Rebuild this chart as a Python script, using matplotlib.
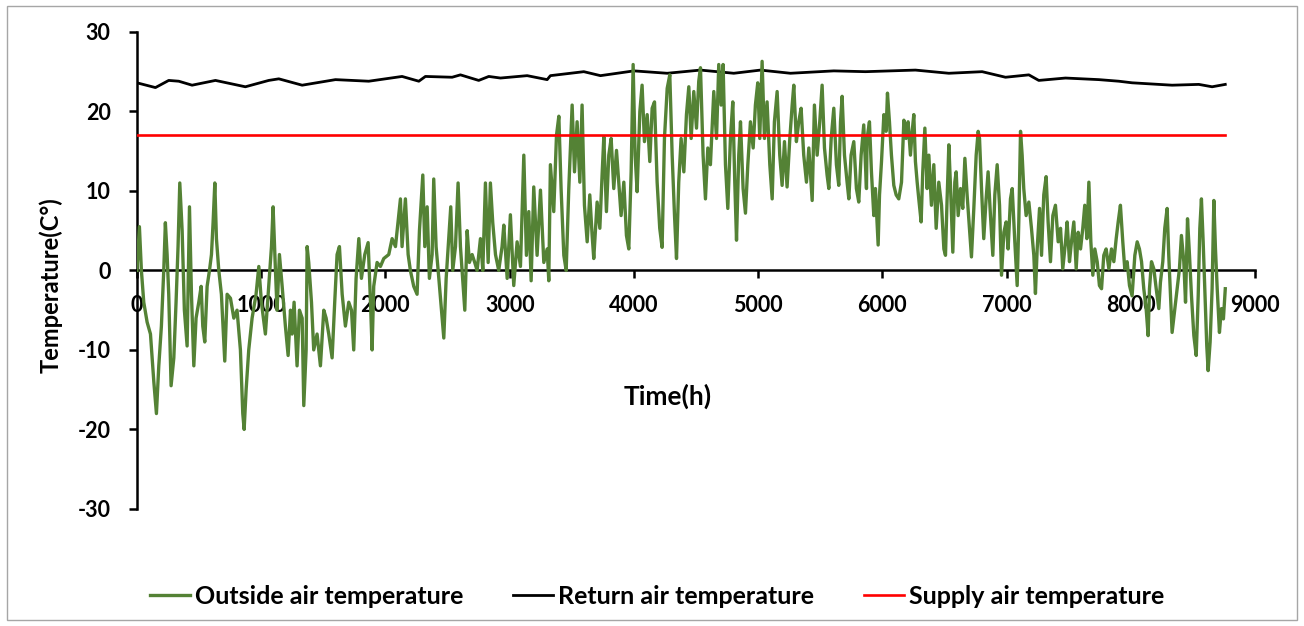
import matplotlib
matplotlib.use("Agg")
import matplotlib.pyplot as plt
from matplotlib.patches import Rectangle

plt.rcParams['font.family'] = ['Lato', 'DejaVu Sans']
plt.rcParams['font.weight'] = 'bold'
plt.rcParams['axes.unicode_minus'] = False

# outside air temperature (hour, deg C)
outside_h = [0, 20, 36, 55, 82, 109, 136, 157, 176, 197, 216, 229, 243, 256, 275, 297, 315, 331, 345, 364,
             382, 404, 423, 439, 458, 476, 498, 517, 530, 546, 565, 584, 600, 613, 627, 640, 659, 680, 707, 726,
             753, 780, 806, 833, 852, 863, 879, 900, 927, 959, 981, 1002, 1034, 1061, 1083, 1096, 1115, 1128, 1147, 1169,
             1195, 1217, 1236, 1249, 1265, 1289, 1308, 1330, 1343, 1362, 1370, 1383, 1405, 1423, 1450, 1477, 1504, 1523, 1544, 1571,
             1592, 1611, 1630, 1652, 1678, 1705, 1727, 1745, 1764, 1786, 1807, 1834, 1861, 1880, 1893, 1906, 1933, 1960, 1987, 2027,
             2054, 2081, 2121, 2134, 2161, 2183, 2201, 2228, 2255, 2274, 2301, 2317, 2336, 2354, 2376, 2389, 2408, 2430, 2451, 2470,
             2489, 2510, 2526, 2542, 2564, 2585, 2604, 2617, 2639, 2658, 2676, 2698, 2719, 2738, 2765, 2784, 2805, 2827, 2845, 2864,
             2886, 2912, 2939,
             2953, 2980, 3006, 3033, 3060, 3087, 3114, 3135, 3154, 3173, 3194, 3221, 3248, 3275, 3302, 3315, 3328, 3355, 3377, 3396,
             3414, 3436, 3455, 3476, 3503, 3522, 3543, 3565, 3583, 3602, 3624, 3645, 3664, 3677, 3704, 3726, 3744, 3758, 3779, 3798,
             3817, 3838, 3860, 3878, 3897, 3919, 3940, 3959, 3978, 3994, 4010, 4026, 4048, 4066, 4085, 4107, 4128, 4147, 4166, 4187,
             4208, 4227, 4246, 4268, 4289, 4308, 4327, 4343, 4361, 4380, 4402, 4423, 4442, 4461, 4482, 4504, 4522, 4536, 4557, 4576,
             4595, 4616, 4643, 4665, 4683, 4702, 4718, 4737, 4756, 4777, 4796, 4812, 4826, 4844, 4858, 4879, 4898, 4917, 4938, 4960,
             4978, 4997, 5013, 5032, 5051, 5072, 5094, 5113, 5131, 5153, 5174, 5193, 5212, 5233, 5255, 5274, 5287, 5308, 5327, 5346,
             5367, 5389, 5408, 5435, 5453, 5475, 5496, 5515, 5534, 5555, 5569, 5588, 5609, 5630, 5649, 5663, 5676, 5695, 5716, 5730,
             5748, 5770, 5791, 5810, 5829, 5850, 5872,
             5877, 5896, 5912, 5931, 5944, 5966, 5977, 5993, 6012, 6030, 6041, 6057, 6073, 6092, 6111, 6132, 6154, 6173, 6191, 6207,
             6226, 6240, 6253, 6266, 6280, 6293, 6312, 6325, 6342, 6360, 6374, 6395, 6414, 6433, 6454, 6476, 6495, 6508, 6521, 6535,
             6548, 6567, 6583, 6594, 6610, 6629, 6647, 6664, 6682, 6701, 6717, 6736, 6755, 6771, 6782, 6798, 6816, 6835, 6851, 6870,
             6889, 6905, 6924, 6943, 6959, 6978, 6996, 7012, 7031, 7045, 7066, 7085, 7098, 7112, 7125, 7138, 7157, 7179, 7200, 7219,
             7232, 7246, 7265, 7281, 7299, 7318, 7334, 7353, 7372, 7393, 7415, 7434, 7452, 7474, 7487, 7506, 7522, 7541, 7560, 7576,
             7595, 7613, 7629, 7646, 7662, 7678, 7694, 7710, 7729, 7747, 7764, 7782, 7801, 7823, 7844, 7863, 7882, 7898, 7916, 7935,
             7951, 7970, 7989, 8010, 8032, 8051, 8069, 8086, 8104, 8123, 8139, 8150, 8166, 8185, 8204, 8225, 8238, 8257, 8273, 8292,
             8305, 8319, 8332, 8354, 8373, 8391, 8407, 8426, 8440, 8456, 8472, 8488, 8507, 8526, 8542, 8555, 8568, 8582, 8595, 8611,
             8622, 8638, 8654, 8668, 8681, 8695, 8713, 8729, 8745, 8760]
outside_t = [0, 5.5, 0, -4, -6.5, -8, -14, -18, -12, -7, 0, 6, 2, -3, -14.5, -11, -4, 3, 11, 5,
             -5, -9.5, 8, -3, -12, -6, -4, -2, -7, -9, -2, 0, 2, 6, 11, 4, 0, -3, -11.4, -3,
             -3.5, -6, -5, -10, -18, -20, -15, -10, -6, -3, 0.5, -4, -8, -2, 3, 8, 0, -5, 2, -2,
             -7, -10.7, -5, -8, -4, -12, -5, -6, -17, -10, 3, 1, -4, -10, -8, -12, -5, -6, -8, -11,
             -4, 2, 3, -3, -7, -4, -5, -10, -1, 4, -1, 2, 3.5, -4, -10, -2, 1, 0.5, 1.5, 2,
             4, 3, 9, 3, 9, 2, 0, -2, -3, 5, 12, 3, 8, -1, 2, 11.5, 3, -1, -5, -8.5,
             -1, 4, 8, 0, 3, 11, 3, 0, -5, 5, 1, 2, 1, 0, 4, 0, 11, 1, 11, 6,
             2, 0, 3,
             5.7, -1, 7, -1.9, 3.6, 0.5, 14.5, 1.9, 7.4, -1.3, 10.5, 1.9, 10.1, 1, 2.7, -1.3, 13.3, 7.4, 17, 19.4,
             10.3, 1.9, 0, 10.3, 20.8, 12.4, 18.7, 11.1, 20.8, 8.2, 3.6, 9.5, 4.4, 1.5, 8.6, 5.3, 12, 16.8, 7.4, 14.5,
             16.6, 10.3, 15.1, 11.1, 6.9, 11.1, 4.4, 2.7, 12.4, 25.9, 14.5, 9.9, 20, 23.3, 16.2, 19.6, 13.7, 20.4, 21.2, 11.1,
             5.3, 2.9, 16.6, 22.9, 24.6, 14.5, 6.9, 1.5, 11.1, 16.6, 12.4, 19.6, 23.1, 16.6, 22.5, 17.9, 23.8, 25.5, 14.5, 9,
             15.4, 13.3, 22.5, 16.6, 25.9, 20.8, 25.9, 13.3, 7.8, 16.6, 21.2, 11.1, 3.8, 14.5, 18.7, 10.3, 7.2, 13.3, 18.7, 15.4,
             20.8, 23.6, 16.6, 26.3, 16.6, 21.2, 13.3, 9, 18.7, 22.5, 14.5, 10.7, 16.2, 10.5, 16.6, 20.8, 23.3, 16.2, 18.7, 20.4,
             14.5, 11.1, 15.4, 8.8, 20.8, 14.5, 18.7, 23.3, 15.4, 12, 10.3, 16.6, 20.4, 13.3, 10.7, 18.7, 21.9, 14.5, 11.1, 9,
             14.5, 16.2, 10.3, 8.6, 14.5, 18.3, 10.3,
             16.6, 18.7, 12.4, 6.9, 10.3, 3.2, 9.5, 13.7, 19.6, 17.5, 22.3, 18.7, 14.5, 10.7, 9.5, 9, 11.1, 18.9, 16.6, 18.7,
             14.5, 17.5, 19.6, 13.7, 11.1, 9, 6.1, 12.4, 17.9, 10.3, 14.5, 8.2, 13.3, 5.3, 11.1, 8.2, 2.7, 1.9, 9, 15.8,
             10.7, 2.3, 11.1, 12.4, 6.9, 10.3, 7.8, 14.1, 9.5, 5.3, 1.7, 7.8, 14.5, 17.5, 16.6, 10.3, 4, 9, 12.4, 6.9,
             1.9, 9.5, 13.3, 8.2, -0.6, 4.8, 6.1, 2.7, 9, 10.3, 3.6, -1.9, 6.1, 17.5, 14.5, 10.3, 6.9, 8.6, 5.3, 1.9,
             -2.9, 2.7, 7.8, 1.9, 9.5, 11.8, 6.1, 1.1, 6.9, 8.2, 3.6, 5.3, 0.2, 3.6, 6.1, 1.1, 3.6, 6.1, 0.2, 4.8,
             2.7, 5.3, 8.2, 4, 11.1, 3.6, -0.6, 2.7, 1.1, -1.9, -2.3, 1.9, 2.7, 0.2, 2.7, 1.1, 4, 6.1, 8.2, 3.6,
             0.2, 1.1, -1.9, -3.2, 1.9, 3.6, 2.7, 1.1, -2.3, -4.8, -8.2, -2.3, 1.1, 0.2, -2.3, -4.8, -1.5, 1.1, 5.3, 7.8,
             1.9, -3.2, -7.8, -4.8, -2.3, 0.2, 4.4, 1.1, -4, 6.5, 1.9, -3.2, -8.2, -10.7, -3.2, 5.3, 9, 3.6, -2.3, -9.5,
             -12.6, -9, -2.3, 8.8, 2.7, -2.3, -7.8, -4.8, -6.1, -2.3]

# return air temperature (hour, deg C)
return_h = [0, 149, 256, 337, 444, 632, 873, 1061, 1142, 1330, 1598, 1866, 2134, 2269, 2322, 2537, 2604, 2751, 2832,
            2926, 3141, 3302, 3328, 3597, 3731, 4000, 4268, 4536, 4804, 5019, 5260, 5609,
            5864, 6266, 6535, 6803, 6991, 7179, 7259, 7474, 7742, 7903, 8010, 8332, 8547, 8654, 8760]
return_t = [23.6, 23.0, 23.9, 23.8, 23.3, 23.9, 23.1, 23.9, 24.1, 23.3, 24.0, 23.8, 24.4, 23.8, 24.4, 24.3, 24.6, 23.9, 24.4,
            24.2, 24.5, 24.0, 24.5, 25.0, 24.5, 25.1, 24.8, 25.2, 24.8, 25.2, 24.8, 25.1,
            25.0, 25.2, 24.8, 25.0, 24.3, 24.6, 23.9, 24.2, 24.0, 23.8, 23.6, 23.3, 23.4, 23.1, 23.4]

# supply air temperature is constant
supply_h = [0, 8760]
supply_t = [17, 17]

fig = plt.figure(figsize=(13.04, 6.26), dpi=100)
ax = fig.add_axes([0.105, 0.187, 0.8575, 0.762])

ax.plot(return_h, return_t, color='black', lw=2.0, label='Return air temperature', zorder=2)
ax.plot(outside_h, outside_t, color='#548235', lw=2.4, label='Outside air temperature', zorder=3)
ax.plot(supply_h, supply_t, color='#FF0000', lw=1.9, label='Supply air temperature', zorder=4)

ax.set_xlim(0, 9000)
ax.set_ylim(-30, 30)
ax.set_xticks(range(0, 9001, 1000))
ax.set_yticks(range(-30, 31, 10))

ax.spines['top'].set_visible(False)
ax.spines['right'].set_visible(False)
ax.spines['bottom'].set_position(('data', 0))
for s in ['left', 'bottom']:
    ax.spines[s].set_linewidth(1.8)
ax.tick_params(axis='both', direction='out', width=1.8, labelsize=15.5)
ax.tick_params(axis='y', length=6, pad=13)
ax.tick_params(axis='x', length=6, pad=12)

ax.set_xlabel('Time(h)', fontsize=19, fontweight='bold')
ax.xaxis.set_label_coords(0.475, 0.262)
ax.set_ylabel('Temperature(C°)', fontsize=17, fontweight='bold')
ax.yaxis.set_label_coords(-0.066, 0.47)

handles, labels = ax.get_legend_handles_labels()
order = [1, 0, 2]
fig.legend([handles[i] for i in order], [labels[i] for i in order],
           loc='center', bbox_to_anchor=(0.504, 1 - 596 / 626), ncol=3, frameon=False,
           fontsize=18, handlelength=1.6, handletextpad=0.2, columnspacing=2.0)

fig.patches.append(Rectangle((7 / 1304, 6 / 626), 1290 / 1304, 614 / 626, transform=fig.transFigure,
                             fill=False, edgecolor='#a6a6a6', lw=1))

fig.savefig('out.png', dpi=100)
